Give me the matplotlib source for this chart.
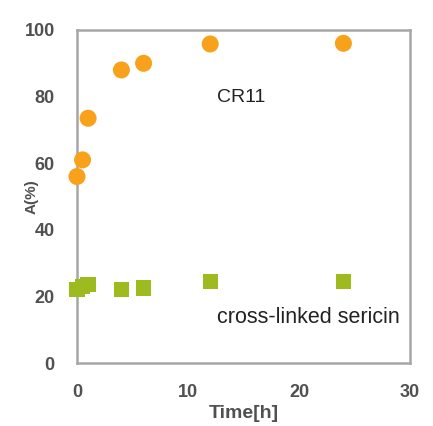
import matplotlib
matplotlib.use("Agg")
import matplotlib.pyplot as plt

# CR11 adsorption over time
cr11_time = [0, 0.5, 1, 4, 6, 12, 24]
cr11_a = [56, 61, 73.5, 88, 90, 95.8, 96]

# cross-linked sericin
seri_time = [0, 0.5, 1, 4, 6, 12, 24]
seri_a = [22, 23, 23.5, 22, 22.5, 24.5, 24.5]

xticks = [0, 10, 20, 30]
yticks = [0, 20, 40, 60, 80, 100]

plt.rcParams['font.family'] = ['Liberation Sans', 'DejaVu Sans']

fig = plt.figure(figsize=(4.33, 4.26), dpi=100)
ax = fig.add_axes([77 / 433, 1 - 363 / 426, 333 / 433, 333 / 426])

ax.scatter(cr11_time, cr11_a, s=150, marker='o', color='#F8A11A',
           edgecolors='none', zorder=3, clip_on=False)
ax.scatter(seri_time, seri_a, s=120, marker='s', color='#9DBA1F',
           edgecolors='none', zorder=3, clip_on=False)

ax.text(12.6, 79.6, 'CR11', fontsize=14, color='#222222', va='center')
ax.text(12.6, 13.8, 'cross-linked sericin', fontsize=15.5, color='#222222',
        va='center')

ax.set_xlim(0, 30)
ax.set_ylim(0, 100)
ax.set_xticks(xticks)
ax.set_yticks(yticks)
ax.tick_params(axis='y', length=0, pad=16, labelsize=13, labelcolor='#505050')
ax.tick_params(axis='x', length=0, pad=15, labelsize=13, labelcolor='#505050')
for lab in ax.get_xticklabels() + ax.get_yticklabels():
    lab.set_fontweight('bold')

for sp in ax.spines.values():
    sp.set_color('#A6A6A6')
    sp.set_linewidth(1.8)

ax.set_xlabel('Time[h]', fontsize=14, fontweight='bold', color='#505050',
              labelpad=3)
ax.set_ylabel('A(%)', fontsize=11, fontweight='bold', color='#505050')
ax.yaxis.set_label_coords(-0.114, 0.5)

fig.savefig('out.png', dpi=100)
